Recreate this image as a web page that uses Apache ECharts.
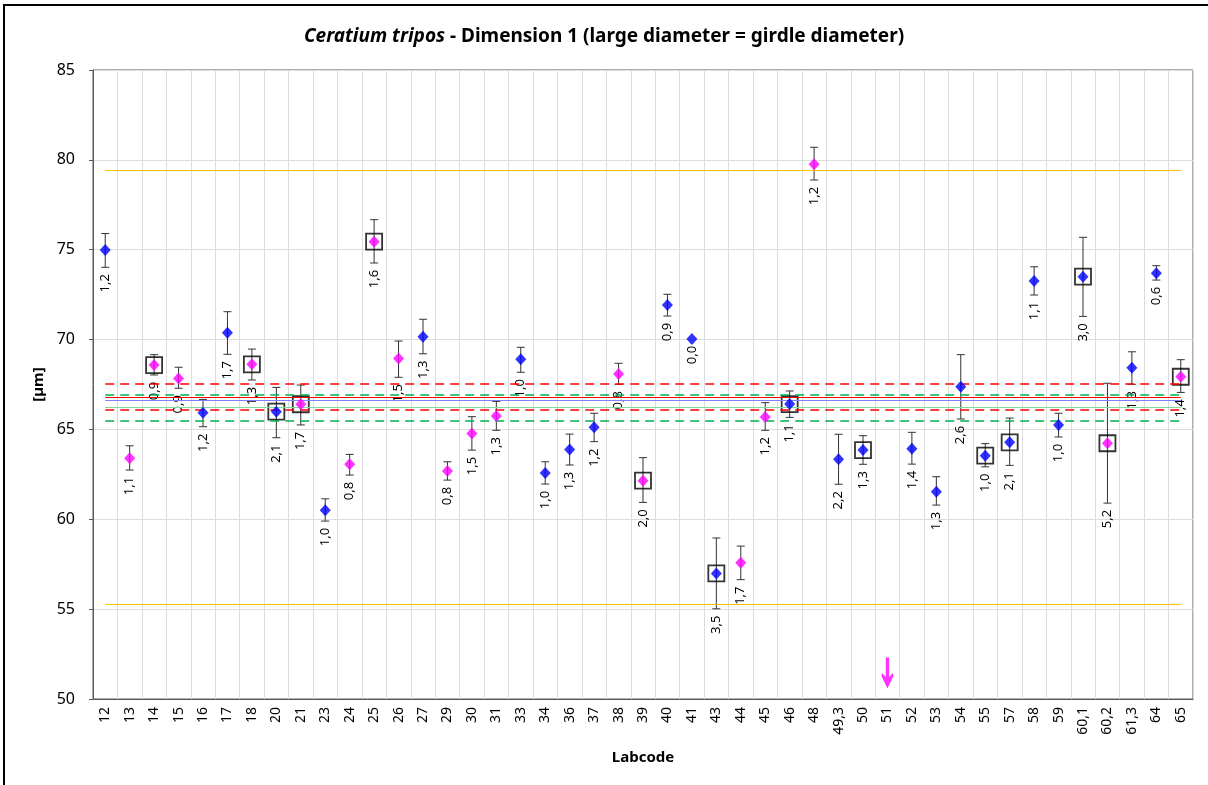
<!DOCTYPE html>
<html lang="en">

<head>
  <meta charset="UTF-8">
  <title>Ceratium tripos - Dimension 1</title>
  <script src="https://cdn.jsdelivr.net/npm/echarts@6/dist/echarts.min.js"></script>
  <style>
    html, body {
      margin: 0;
      padding: 0;
      background: #fff;
      overflow: hidden;
    }

    #frame {
      position: absolute;
      left: 3px;
      top: 4px;
      width: 1230px;
      height: 800px;
      border: 2px solid #000;
    }

    #chart {
      position: absolute;
      left: 0;
      top: 0;
      width: 1208px;
      height: 785px;
    }
  </style>
</head>

<body>
<div id="frame"></div>
<div id="chart"></div>

<script>
  const labcodes = ['12', '13', '14', '15', '16', '17', '18', '20', '21', '23', '24', '25', '26', '27', '29',
    '30', '31', '33', '34', '36', '37', '38', '39', '40', '41', '43', '44', '45', '46', '48', '49,3', '50',
    '51', '52', '53', '54', '55', '57', '58', '59', '60,1', '60,2', '61,3', '64', '65'];

  // lab means (µm), null = no result
  const means = [74.98, 63.40, 68.58, 67.84, 65.93, 70.38, 68.62, 65.99, 66.40, 60.50, 63.06, 75.45, 68.94,
    70.16, 62.69, 64.78, 65.75, 68.90, 62.57, 63.89, 65.12, 68.08, 62.15, 71.92, 70.03, 56.99, 57.58, 65.69,
    66.41, 79.75, 63.34, 63.85, null, 63.93, 61.53, 67.38, 63.54, 64.28, 73.26, 65.24, 73.50, 64.23, 68.43,
    73.69, 67.93];

  // error bar ends
  const errLow = [74.02, 62.74, 68.03, 67.29, 65.15, 69.18, 67.75, 64.54, 65.25, 59.90, 62.46, 74.26, 67.90,
    69.21, 62.18, 63.85, 64.95, 68.18, 61.96, 63.02, 64.32, 67.51, 60.94, 71.31, 70.03, 55.02, 56.64, 64.95,
    65.67, 78.88, 61.95, 63.06, null, 63.07, 60.79, 65.58, 62.92, 63.00, 72.48, 64.58, 71.29, 60.90, 67.51,
    73.31, 67.06];
  const errHigh = [75.90, 64.09, 69.16, 68.46, 66.67, 71.55, 69.47, 67.34, 67.47, 61.14, 63.61, 76.67, 69.92,
    71.13, 63.20, 65.71, 66.56, 69.57, 63.20, 64.74, 65.90, 68.68, 63.43, 72.52, 70.03, 58.96, 58.51, 66.49,
    67.14, 80.70, 64.73, 64.65, null, 64.84, 62.37, 69.16, 64.21, 65.63, 74.05, 65.90, 75.69, 67.57, 69.32,
    74.11, 68.88];

  // standard deviation labels
  const sdLabels = ['1,2', '1,1', '0,9', '0,9', '1,2', '1,7', '1,3', '2,1', '1,7', '1,0', '0,8', '1,6', '1,5',
    '1,3', '0,8', '1,5', '1,3', '1,0', '1,0', '1,3', '1,2', '0,8', '2,0', '0,9', '0,0', '3,5', '1,7', '1,2',
    '1,1', '1,2', '2,2', '1,3', '', '1,4', '1,3', '2,6', '1,0', '2,1', '1,1', '1,0', '3,0', '5,2', '1,3',
    '0,6', '1,4'];

  // b = blue marker, m = magenta marker
  const groups = ['b', 'm', 'm', 'm', 'b', 'b', 'm', 'b', 'm', 'b', 'm', 'm', 'm', 'b', 'm', 'm', 'm', 'b',
    'b', 'b', 'b', 'm', 'm', 'b', 'b', 'b', 'm', 'm', 'b', 'm', 'b', 'b', '', 'b', 'b', 'b', 'b', 'b', 'b',
    'b', 'b', 'm', 'b', 'b', 'm'];

  const boxedLabs = ['14', '18', '20', '21', '25', '39', '43', '46', '50', '55', '57', '60,1', '60,2', '65'];

  const arrowLab = '51';
  const arrowValue = 51.45;

  const refLines = [
    {value: 79.43, color: '#ffc000', type: 'solid', width: 1},
    {value: 55.28, color: '#ffc000', type: 'solid', width: 1},
    {value: 67.53, color: '#ff0000', type: [9, 6], width: 1.6},
    {value: 66.10, color: '#ff0000', type: [9, 6], width: 1.6},
    {value: 66.95, color: '#00b050', type: [9, 6], width: 1.6},
    {value: 65.48, color: '#00b050', type: [9, 6], width: 1.6},
    {value: 66.79, color: '#ff0000', type: 'solid', width: 1},
    {value: 66.64, color: '#7f7fff', type: 'solid', width: 1},
    {value: 66.23, color: '#7fd8a0', type: 'solid', width: 1}
  ];

  const FONT = '"Noto Sans", "Open Sans", sans-serif';

  function pointsOf(g) {
    let out = [];
    labcodes.forEach(function (lab, i) {
      if (groups[i] === g && means[i] !== null) out.push([i, means[i]]);
    });
    return out;
  }

  let errData = [];
  labcodes.forEach(function (lab, i) {
    if (means[i] !== null) errData.push([i, errLow[i], errHigh[i], sdLabels[i]]);
  });

  let boxData = boxedLabs.map(function (lab) {
    let i = labcodes.indexOf(lab);
    return [i, means[i]];
  });

  let last = labcodes[labcodes.length - 1];
  let refData = refLines.map(function (r) {
    return [
      {coord: [labcodes[0], r.value], lineStyle: {color: r.color, type: r.type, width: r.width}},
      {coord: [last, r.value]}
    ];
  });

  function renderErr(params, api) {
    let x = api.value(0);
    let lo = api.coord([x, api.value(1)]);
    let hi = api.coord([x, api.value(2)]);
    let children = [];
    let st = {stroke: '#333', lineWidth: 1};
    if (Math.abs(lo[1] - hi[1]) > 0.5) {
      children.push({type: 'line', shape: {x1: lo[0], y1: lo[1], x2: hi[0], y2: hi[1]}, style: st});
      children.push({type: 'line', shape: {x1: lo[0] - 4, y1: lo[1], x2: lo[0] + 4, y2: lo[1]}, style: st});
      children.push({type: 'line', shape: {x1: hi[0] - 4, y1: hi[1], x2: hi[0] + 4, y2: hi[1]}, style: st});
    }
    children.push({
      type: 'text',
      x: lo[0],
      y: lo[1] + 16,
      rotation: Math.PI / 2,
      style: {
        text: api.value(3),
        fill: '#000',
        font: '13px ' + FONT,
        align: 'center',
        verticalAlign: 'middle'
      }
    });
    return {type: 'group', children: children};
  }

  echarts.init(document.getElementById('chart')).setOption({
    animation: false,
    title: {
      text: '{i|Ceratium tripos}{b| - Dimension 1 (large diameter = girdle diameter)}',
      left: 'center',
      top: 22,
      textStyle: {
        rich: {
          i: {fontFamily: FONT, fontSize: 19, fontStyle: 'italic', color: '#000'},
          b: {fontFamily: FONT, fontSize: 19, fontWeight: 'bold', color: '#000'}
        }
      }
    },
    grid: {
      left: 93,
      right: 15,
      top: 70,
      bottom: 86,
      show: true,
      borderColor: '#595959',
      borderWidth: 1
    },
    xAxis: {
      type: 'category',
      data: labcodes,
      name: 'Labcode',
      nameLocation: 'middle',
      nameGap: 51,
      nameTextStyle: {fontFamily: FONT, fontSize: 15, fontWeight: 'bold', color: '#000'},
      axisLine: {lineStyle: {color: '#595959'}},
      axisTick: {show: false},
      axisLabel: {
        rotate: 90,
        interval: 0,
        fontFamily: FONT,
        fontSize: 14,
        color: '#000',
        margin: 8
      },
      splitLine: {show: true, interval: 0, lineStyle: {color: '#dcdcdc'}}
    },
    yAxis: {
      type: 'value',
      min: 50,
      max: 85,
      interval: 5,
      name: '[µm]',
      nameLocation: 'middle',
      nameGap: 24,
      nameTextStyle: {fontFamily: FONT, fontSize: 15, fontWeight: 'bold', color: '#000'},
      axisLine: {show: true, lineStyle: {color: '#595959'}},
      axisTick: {show: true, length: 4, lineStyle: {color: '#595959'}},
      axisLabel: {fontFamily: FONT, fontSize: 16, color: '#000', margin: 18},
      splitLine: {lineStyle: {color: '#dcdcdc'}}
    },
    series: [
      {
        type: 'line',
        data: [],
        silent: true,
        markLine: {
          silent: true,
          symbol: 'none',
          label: {show: false},
          emphasis: {disabled: true},
          data: refData
        },
        z: 2
      },
      {
        type: 'custom',
        renderItem: renderErr,
        data: errData,
        silent: true,
        z: 3
      },
      {
        type: 'scatter',
        data: boxData,
        symbol: 'rect',
        symbolSize: 16,
        itemStyle: {color: 'rgba(0,0,0,0)', borderColor: '#000', borderWidth: 1.8},
        silent: true,
        z: 4
      },
      {
        type: 'scatter',
        data: pointsOf('b'),
        symbol: 'diamond',
        symbolSize: [11, 12],
        itemStyle: {color: '#0000ff'},
        z: 5
      },
      {
        type: 'scatter',
        data: pointsOf('m'),
        symbol: 'diamond',
        symbolSize: [11, 12],
        itemStyle: {color: '#ff00ff'},
        z: 5
      },
      {
        type: 'scatter',
        data: [[arrowLab, arrowValue]],
        symbol: 'path://M4,0 L7,0 L7,19 L10.5,15 L11,18 L5.5,30 L0,18 L0.5,15 L4,19 Z',
        symbolSize: [12, 31],
        itemStyle: {color: '#ff00ff'},
        silent: true,
        z: 5
      }
    ]
  });
</script>
</body>

</html>
